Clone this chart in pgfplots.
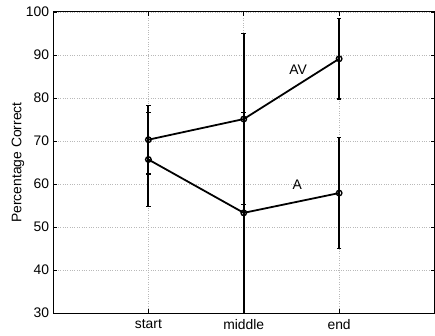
\documentclass[border=0pt]{standalone}
\usepackage{pgfplots}
\pgfplotsset{compat=1.18}
\usepackage{fontspec}
\setmainfont{Liberation Sans}
\begin{document}
\begin{tikzpicture}
\begin{axis}[
  scale only axis,
  width=385pt, height=304pt,
  at={(0,0)}, anchor=south west,
  xmin=0, xmax=4, ymin=30, ymax=100,
  xtick={1,2,3}, xticklabels={start,middle,end},
  ytick={30,40,50,60,70,80,90,100},
  /pgf/number format/assume math mode=true,
  tick label style={font=\fontsize{14}{16}\selectfont},
  label style={font=\fontsize{14}{16}\selectfont},
  ylabel={Percentage Correct},
  ylabel style={at={(axis description cs:-0.092,0.5)}, anchor=center},
  grid=major,
  major grid style={gray!55, dotted, line width=0.6pt},
  tick align=inside,
  major tick length=4pt,
  axis line style={line width=1pt},
  tick style={black, line width=0.6pt},
  yticklabel style={xshift=-0.5pt},
  xticklabel style={yshift=-3pt},
  clip=false,
]
\addplot[black, line width=1.8pt, mark=o, mark size=2.8pt, mark options={line width=1.4pt},
  error bars/.cd, y dir=both, y explicit,
  error bar style={line width=1.9pt},
  error mark options={rotate=90, mark size=2.3pt, line width=1.2pt}]
  table[x=x, y=y, y error=e] {
x y e
1 70.3 7.95
2 75.1 19.8
3 89.1 9.35
};
\addplot[black, line width=1.8pt, mark=o, mark size=2.8pt, mark options={line width=1.4pt},
  error bars/.cd, y dir=both, y explicit,
  error bar style={line width=1.9pt},
  error mark options={rotate=90, mark size=2.3pt, line width=1.2pt}]
  table[x=x, y=y, y error=e] {
x y e
1 65.7 10.9
2 53.3 23.3
3 57.9 12.85
};
\node[font=\fontsize{14}{16}\selectfont] at (axis cs:2.57,86.6) {AV};
\node[font=\fontsize{14}{16}\selectfont] at (axis cs:2.56,59.8) {A};
\end{axis}
\path[use as bounding box] (-53.5pt,-23pt) rectangle (381.5pt,316pt);
\end{tikzpicture}
\end{document}
